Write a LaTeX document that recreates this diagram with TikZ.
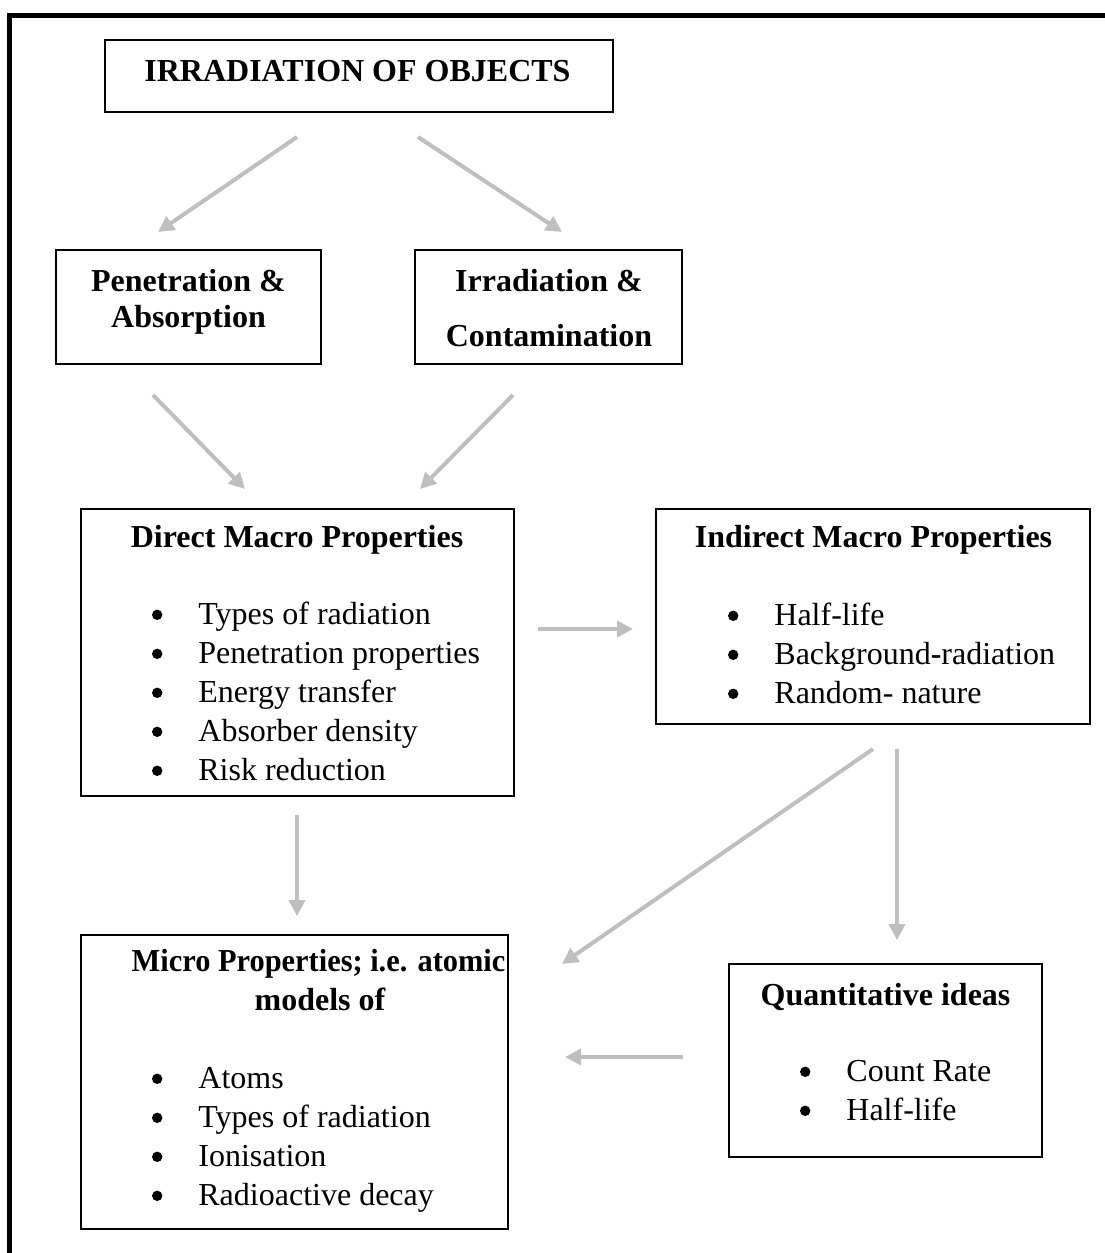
\documentclass[tikz,border=0pt]{standalone}
\usepackage{fontspec}
\setmainfont{Liberation Serif}
\usetikzlibrary{arrows.meta}
\definecolor{arrowgrey}{HTML}{BFBFBF}
\tikzset{
  box/.style={draw=black, line width=1pt, rectangle, inner sep=0pt},
  heading/.style={anchor=base, inner sep=0pt,
    font=\fontsize{16}{19.4}\selectfont\bfseries},
  entry/.style={anchor=base west, inner sep=0pt,
    font=\fontsize{16}{19.4}\selectfont},
  flow/.style={draw=arrowgrey, line width=2pt,
    -{Triangle[length=8pt,width=8pt]}},
}
% round list marker set 20.5pt left of the item text
\newcommand{\listdot}{\raisebox{2pt}{\tikz\fill[black] (0,0) circle (2.6pt);}}
\newcommand{\bulletitem}[1]{\llap{\listdot\hspace{18pt}}#1}
\begin{document}
\begin{tikzpicture}[x=0.5pt, y=-0.5pt]
\useasboundingbox (0,0) rectangle (1104,1253);
% page frame (top and left rules)
\draw[line width=2.5pt] (9.5,1270) -- (9.5,15.5) -- (1120,15.5);

% boxes
\node[box, minimum width=254pt, minimum height=36pt] (title) at (359,76) {};
\node[box, minimum width=132.5pt, minimum height=57pt] (pen) at (188.5,307) {};
\node[box, minimum width=133.5pt, minimum height=57pt] (irr) at (548.5,307) {};
\node[box, minimum width=216.5pt, minimum height=143.5pt] (direct) at (297.5,652.5) {};
\node[box, minimum width=217pt, minimum height=107.5pt] (indirect) at (873,616.5) {};
\node[box, minimum width=213.5pt, minimum height=147pt] (micro) at (294.5,1082) {};
\node[box, minimum width=156.5pt, minimum height=96.5pt] (quant) at (885.5,1060.5) {};

% headings
\node[heading] (titleT) at (357.5,81) {IRRADIATION OF OBJECTS};
\node[heading] (penA) at (188.5,291) {Penetration \&};
\node[heading] (penB) at (188.5,327) {Absorption};
\node[heading] (irrA) at (549,291) {Irradiation \&};
\node[heading] (irrB) at (549,346) {Contamination};
\node[heading] (directT) at (297,547) {Direct Macro Properties};
\node[heading] (indirectT) at (873.5,547) {Indirect Macro Properties};
\node[heading] (microA) at (318.5,971) {\scalebox{0.95}[1]{Micro Properties; i.e. atomic}};
\node[heading] (microB) at (320,1010) {models of};
\node[heading] (quantT) at (885.5,1005) {Quantitative ideas};

% bullet lists
\node[entry] (d1) at (198,624) {\bulletitem{Types of radiation}};
\node[entry] (d2) at (198,663) {\bulletitem{Penetration properties}};
\node[entry] (d3) at (198,702) {\bulletitem{Energy transfer}};
\node[entry] (d4) at (198,741) {\bulletitem{Absorber density}};
\node[entry] (d5) at (198,780) {\bulletitem{Risk reduction}};

\node[entry] (i1) at (774,625) {\bulletitem{Half-life}};
\node[entry] (i2) at (774,664) {\bulletitem{Background{\bfseries -}radiation}};
\node[entry] (i3) at (774,703) {\bulletitem{Random- nature}};

\node[entry] (m1) at (198,1088) {\bulletitem{Atoms}};
\node[entry] (m2) at (198,1127) {\bulletitem{Types of radiation}};
\node[entry] (m3) at (198,1166) {\bulletitem{Ionisation}};
\node[entry] (m4) at (198,1205) {\bulletitem{Radioactive decay}};

\node[entry] (q1) at (846,1081) {\bulletitem{Count Rate}};
\node[entry] (q2) at (846,1120) {\bulletitem{Half-life}};

% connector ends
\coordinate (t-l) at (297,137);   \coordinate (pen-in) at (158,232);
\coordinate (t-r) at (418,137);   \coordinate (irr-in) at (562,232);
\coordinate (pen-out) at (153,395); \coordinate (dir-inl) at (245,489);
\coordinate (irr-out) at (513,395); \coordinate (dir-inr) at (420,489);
\coordinate (dir-r) at (538,629);  \coordinate (ind-in) at (633,629);
\coordinate (dir-b) at (297,815);  \coordinate (mic-in) at (297,916);
\coordinate (ind-bl) at (873,749); \coordinate (mic-ind) at (562,964);
\coordinate (ind-b) at (897,749);  \coordinate (qua-in) at (897,940);
\coordinate (qua-l) at (683,1057); \coordinate (mic-qua) at (565,1057);

% connectors
\draw[flow] (t-l) -- (pen-in);
\draw[flow] (t-r) -- (irr-in);
\draw[flow] (pen-out) -- (dir-inl);
\draw[flow] (irr-out) -- (dir-inr);
\draw[flow] (dir-r) -- (ind-in);
\draw[flow] (dir-b) -- (mic-in);
\draw[flow] (ind-bl) -- (mic-ind);
\draw[flow] (ind-b) -- (qua-in);
\draw[flow] (qua-l) -- (mic-qua);
\end{tikzpicture}
\end{document}
